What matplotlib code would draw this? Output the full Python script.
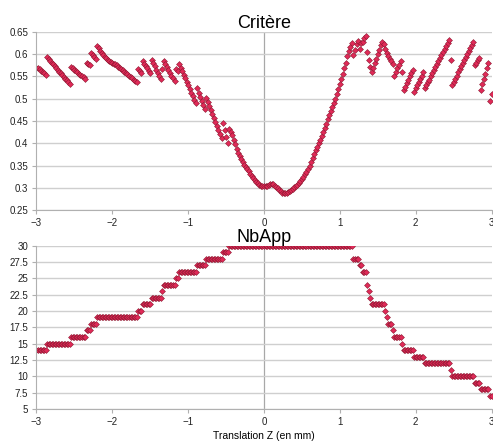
# critere_nbapp.py
# Critere and NbApp vs translation Z, two scatter panels.

import numpy as np
from matplotlib import pyplot as plt
from matplotlib.ticker import FormatStrFormatter

# sampling of translation Z (mm), one measure every 0.02 mm
z = np.linspace(-3, 3, 301)

# criterion value at each z, grouped by NbApp plateau
critere = [
    0.569, 0.568, 0.566, 0.563, 0.560, 0.557, 0.553,
    0.593, 0.589, 0.585, 0.581, 0.577, 0.573, 0.569, 0.565, 0.561, 0.557,
    0.553, 0.549, 0.545, 0.541, 0.537, 0.533,
    0.572, 0.568, 0.565, 0.562, 0.559, 0.556, 0.553, 0.550, 0.548, 0.545,
    0.580, 0.578, 0.576,
    0.602, 0.598, 0.594, 0.590,
    0.619, 0.613, 0.607, 0.602, 0.598, 0.594, 0.591, 0.588, 0.585, 0.583,
    0.581, 0.579, 0.577, 0.575, 0.572, 0.570, 0.567, 0.564, 0.561, 0.558,
    0.555, 0.552, 0.549, 0.546, 0.543, 0.540, 0.538,
    0.566, 0.562, 0.558,
    0.584, 0.579, 0.574, 0.569, 0.563, 0.558,
    0.587, 0.580, 0.573, 0.565, 0.558, 0.551, 0.544,
    0.566,
    0.584, 0.578, 0.571, 0.565, 0.558, 0.552, 0.546, 0.540,
    0.566, 0.562,
    0.578, 0.570, 0.562, 0.554, 0.546, 0.538, 0.530, 0.522, 0.514, 0.506,
    0.498, 0.490,
    0.523, 0.514, 0.505, 0.496, 0.487, 0.478,
    0.501, 0.492, 0.483, 0.474, 0.465, 0.456, 0.447, 0.438, 0.429, 0.420,
    0.412,
    0.445, 0.430, 0.415, 0.401,
    # NbApp = 30, from -0.46 to 1.16
    0.432, 0.425, 0.418, 0.408, 0.398, 0.388, 0.379, 0.371, 0.364, 0.358,
    0.352, 0.347, 0.342, 0.337, 0.332, 0.327, 0.322, 0.318, 0.314, 0.310,
    0.307, 0.305, 0.304, 0.303, 0.303, 0.304, 0.306, 0.308, 0.309, 0.308,
    0.305, 0.302, 0.299, 0.295, 0.292, 0.289, 0.288, 0.288, 0.289, 0.291,
    0.293, 0.295, 0.298, 0.301, 0.304, 0.307, 0.311, 0.315, 0.320, 0.325,
    0.330, 0.336, 0.342, 0.349, 0.357, 0.366, 0.375, 0.384, 0.392, 0.400,
    0.408, 0.417, 0.426, 0.435, 0.444, 0.454, 0.464, 0.473, 0.482, 0.491,
    0.500, 0.510, 0.521, 0.532, 0.544, 0.556, 0.568, 0.580, 0.595, 0.607,
    0.616, 0.625,
    # right side
    0.598, 0.610, 0.622, 0.630,
    0.612, 0.626,
    0.628, 0.636, 0.641,
    0.606,
    0.588,
    0.572,
    0.560, 0.570, 0.580, 0.590, 0.600, 0.610, 0.620, 0.628, 0.622,
    0.612,
    0.603,
    0.596, 0.590, 0.584,
    0.578,
    0.552, 0.560, 0.568, 0.576, 0.584,
    0.560,
    0.519, 0.527, 0.535, 0.543, 0.550, 0.557, 0.564,
    0.516, 0.523, 0.531, 0.538, 0.545, 0.552, 0.560,
    0.523, 0.530, 0.537, 0.543, 0.550, 0.557, 0.564, 0.571, 0.577, 0.584,
    0.591, 0.598, 0.605, 0.611, 0.618, 0.625, 0.632,
    0.587,
    0.531, 0.538, 0.545, 0.552, 0.559, 0.566, 0.573, 0.580, 0.587, 0.594,
    0.600, 0.607, 0.614, 0.621, 0.628,
    0.576, 0.581, 0.586, 0.591,
    0.520, 0.532, 0.544, 0.556, 0.568, 0.580,
    0.495, 0.510,
]

# NbApp plateaus: value and number of consecutive z samples
nb_levels = [14, 15, 16, 17, 18, 19, 20, 21, 22, 23, 24, 25, 26, 27, 28, 29,
             30, 28, 27, 26, 24, 23, 22, 21, 20, 19, 18, 17, 16, 15, 14, 13,
             12, 11, 10, 9, 8, 7]
nb_counts = [7, 16, 10, 3, 4, 27, 3, 6, 7, 1, 8, 2, 12, 6, 11, 4,
             82, 4, 2, 3, 1, 1, 1, 9, 1, 1, 3, 1, 5, 1, 7, 7,
             17, 1, 15, 4, 6, 2]
nb_app = np.repeat(nb_levels, nb_counts)

x_ticks = [-3, -2, -1, 0, 1, 2, 3]
crit_ticks = [0.25, 0.3, 0.35, 0.4, 0.45, 0.5, 0.55, 0.6, 0.65]
nb_ticks = [5, 7.5, 10, 12.5, 15, 17.5, 20, 22.5, 25, 27.5, 30]

plt.rcParams['font.family'] = ['Liberation Sans', 'DejaVu Sans']

FACE = '#e02a58'
EDGE = '#8a1830'
GRID = '#cfcfcf'
AXIS = '#b0b0b0'


def style_axes(ax, yticks):
    '''
    Grid, spines and ticks shared by both panels
    '''
    ax.set_xlim(-3, 3)
    ax.set_xticks(x_ticks)
    ax.set_yticks(yticks)
    ax.set_ylim(yticks[0], yticks[-1])
    ax.yaxis.set_major_formatter(FormatStrFormatter('%g'))
    ax.grid(axis='y', color=GRID, linewidth=1)
    ax.set_axisbelow(True)
    ax.axvline(0, color='#a8a8a8', linewidth=0.9, zorder=0.5)
    for side in ['top', 'right']:
        ax.spines[side].set_visible(False)
    for side in ['left', 'bottom']:
        ax.spines[side].set_color(AXIS)
    ax.tick_params(labelsize=7, colors=AXIS, labelcolor='#222222',
                   length=3, width=0.8, pad=3)


fig = plt.figure(figsize=(4.93, 4.44), dpi=100)

ax1 = fig.add_axes([0.074, 0.527, 0.923, 0.401])
ax1.plot(z, critere, 'D', markersize=3, markerfacecolor=FACE,
         markeredgecolor=EDGE, markeredgewidth=0.4)
style_axes(ax1, crit_ticks)
ax1.set_title('Critère', fontsize=13, pad=3)

ax2 = fig.add_axes([0.074, 0.079, 0.923, 0.368])
ax2.plot(z, nb_app, 'D', markersize=3, markerfacecolor=FACE,
         markeredgecolor=EDGE, markeredgewidth=0.4)
style_axes(ax2, nb_ticks)
ax2.set_title('NbApp', fontsize=13, pad=2)
ax2.set_xlabel('Translation Z (en mm)', fontsize=7.5, labelpad=3)

fig.savefig('out.png', dpi=100)
